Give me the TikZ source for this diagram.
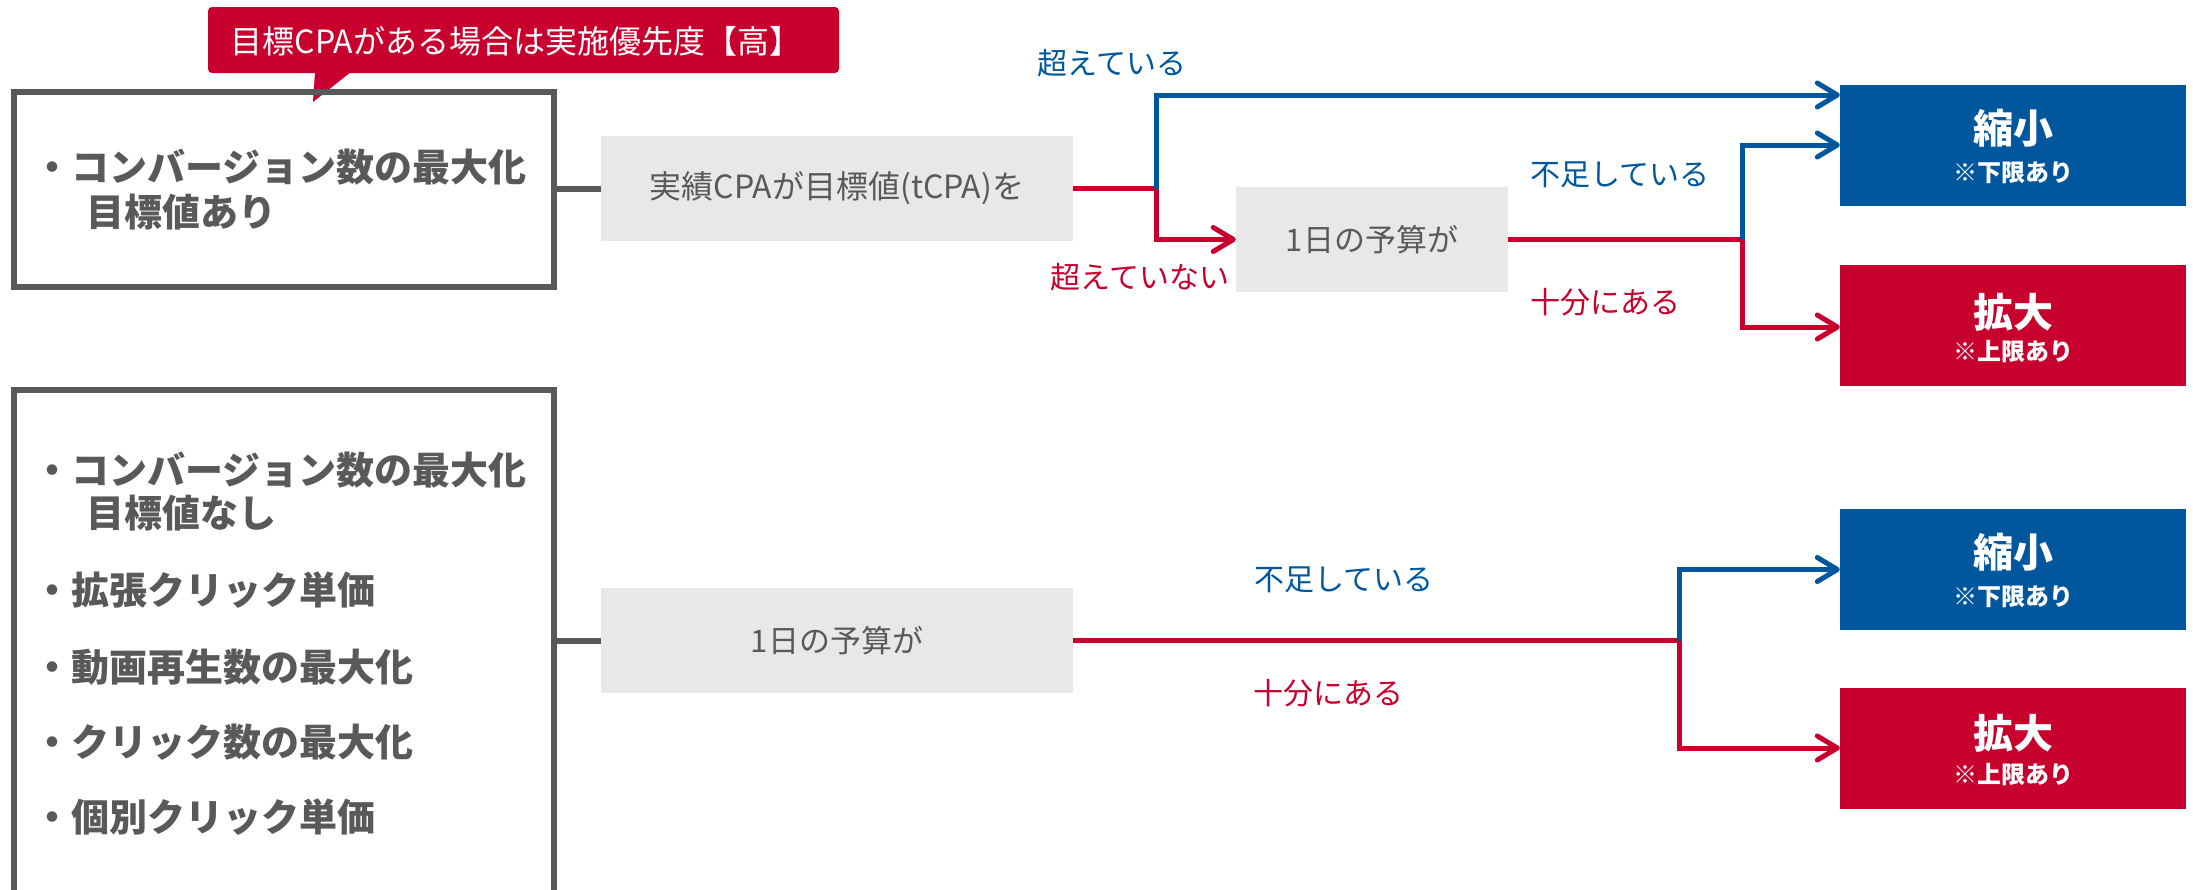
\documentclass[tikz,border=0pt]{standalone}
\usepackage{fontspec}
\setmainfont{Noto Sans CJK JP}
\usetikzlibrary{arrows.meta}
\definecolor{myblue}{HTML}{00579E}
\definecolor{myred}{HTML}{C8002D}
\definecolor{dgray}{HTML}{595959}
\definecolor{lgray}{HTML}{E8E8E8}
\tikzset{
  outerbox/.style={draw=dgray, line width=6pt, minimum width=540pt, inner sep=0pt},
  graybox/.style={fill=lgray, text=dgray, inner sep=0pt, minimum height=105pt, font=\fontsize{30}{36}\selectfont},
  resbox/.style={inner sep=0pt, minimum width=346pt, minimum height=121pt},
  bigtxt/.style={text=white, inner sep=0pt, font=\bfseries\fontsize{40}{48}\selectfont},
  smalltxt/.style={text=white, inner sep=0pt, font=\bfseries\fontsize{24}{28}\selectfont},
  itemtxt/.style={text=dgray, anchor=west, inner sep=0pt, font=\bfseries\fontsize{38}{44}\selectfont},
  lbl/.style={inner sep=0pt, font=\fontsize{30}{36}\selectfont},
  conn/.style={draw=dgray, line width=6pt},
  rline/.style={draw=myred, line width=5pt},
  bline/.style={draw=myblue, line width=5pt},
  tip/.style={-{Straight Barb[length=20pt,width=24pt,round]}}
}
\begin{document}
\begin{tikzpicture}[x=1pt,y=-1pt]
\useasboundingbox (0,0) rectangle (2193,889);

% callout
\fill[myred, rounded corners=4pt] (208,7) rectangle (839,73);
\fill[myred] (315,72) -- (313,102) -- (351,72) -- cycle;
\node[text=white, inner sep=0pt, font=\fontsize{32}{36}\selectfont] (callout) at (516,41) {目標CPAがある場合は実施優先度【高】};

% top outer box
\node[outerbox, minimum height=195pt] (box1) at (284,189.5) {};
\node[itemtxt] (t1a) at (33,167) {・コンバージョン数の最大化};
\node[itemtxt] (t1b) at (86,212) {目標値あり};

% bottom outer box
\node[outerbox, minimum height=570pt] (box2) at (284,675) {};
\node[itemtxt] (t2a) at (33,470) {・コンバージョン数の最大化};
\node[itemtxt] (t2b) at (86,513) {目標値なし};
\node[itemtxt] (t2c) at (33,590) {・拡張クリック単価};
\node[itemtxt] (t2d) at (33,667) {・動画再生数の最大化};
\node[itemtxt] (t2e) at (33,742) {・クリック数の最大化};
\node[itemtxt] (t2f) at (33,817) {・個別クリック単価};

% gray boxes
\node[graybox, minimum width=472pt, font=\fontsize{32}{36}\selectfont] (g1) at (837,188.5) {実績CPAが目標値(tCPA)を};
\node[graybox, minimum width=272pt, font=\fontsize{31}{36}\selectfont] (g2) at (1372,239.5) {1日の予算が};
\node[graybox, minimum width=472pt, font=\fontsize{31}{36}\selectfont] (g3) at (837,640.5) {1日の予算が};

% result boxes
\node[resbox, fill=myblue] (s1) at (2013,145.5) {};
\node[bigtxt] (s1a) at ([yshift=17.5pt]s1.center) {縮小};
\node[smalltxt] (s1b) at ([yshift=-27pt]s1.center) {※下限あり};
\node[resbox, fill=myred] (e1) at (2013,325.5) {};
\node[bigtxt] (e1a) at ([yshift=13.5pt]e1.center) {拡大};
\node[smalltxt] (e1b) at ([yshift=-26.5pt]e1.center) {※上限あり};
\node[resbox, fill=myblue] (s2) at (2013,569.5) {};
\node[bigtxt] (s2a) at ([yshift=17.5pt]s2.center) {縮小};
\node[smalltxt] (s2b) at ([yshift=-27.5pt]s2.center) {※下限あり};
\node[resbox, fill=myred] (e2) at (2013,748) {};
\node[bigtxt] (e2a) at ([yshift=15pt]e2.center) {拡大};
\node[smalltxt] (e2b) at ([yshift=-27pt]e2.center) {※上限あり};

% connectors from outer boxes
\draw[conn] (box1.east |- g1.west) -- (g1.west);
\draw[conn] (box2.east |- g3.west) -- (g3.west);

% top flow
\coordinate (j1) at (1156,188.5);
\coordinate (j2) at (1742,239.5);
\draw[rline] (g1.east) -- (j1);
\draw[bline, tip] (j1) |- (s1.west |- 0,95);
\draw[rline, tip] (j1) |- (g2.west);
\draw[rline] (g2.east) -- (j2);
\draw[bline, tip] (j2) |- (s1.west |- 0,145);
\draw[rline, tip] (j2) |- (e1.west |- 0,327);

% bottom flow
\coordinate (j3) at (1679,640.5);
\draw[rline] (g3.east) -- (j3);
\draw[bline, tip] (j3) |- (s2.west);
\draw[rline, tip] (j3) |- (e2.west);

% labels
\node[lbl, text=myblue] (l1) at (1112,63) {超えている};
\node[lbl, text=myred] (l2) at (1140,277) {超えていない};
\node[lbl, text=myblue] (l3) at (1620,175) {不足している};
\node[lbl, text=myred] (l4) at (1605,302) {十分にある};
\node[lbl, text=myblue] (l5) at (1344,580) {不足している};
\node[lbl, text=myred] (l6) at (1328,693) {十分にある};
\end{tikzpicture}
\end{document}
